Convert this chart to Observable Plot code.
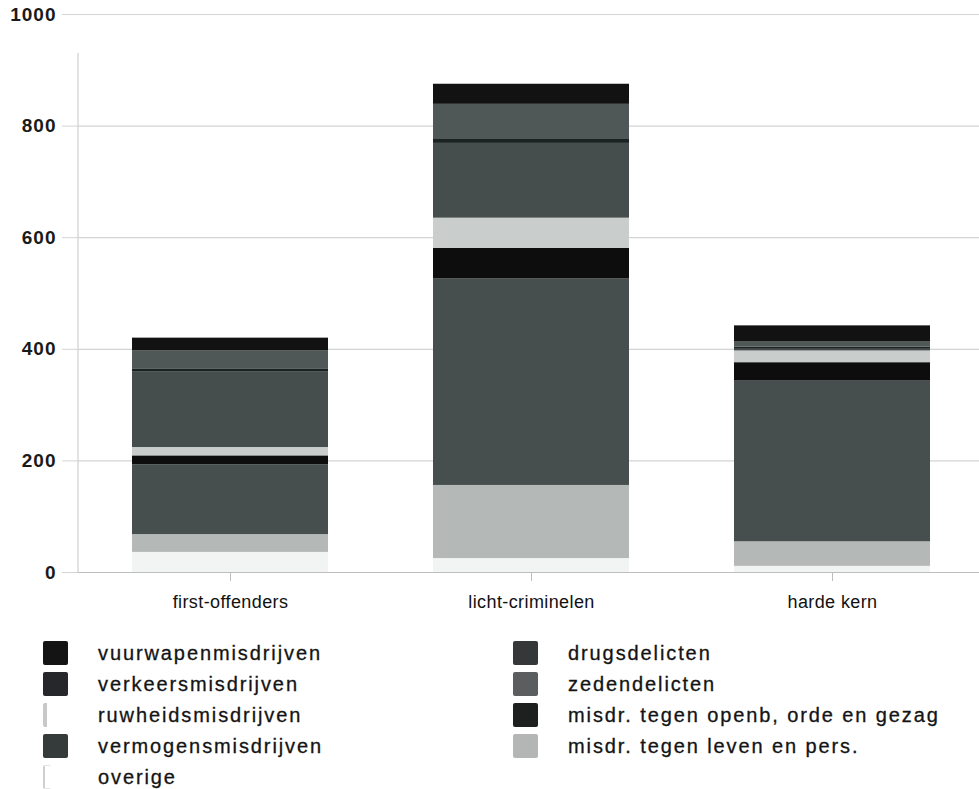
<!DOCTYPE html>
<html>
<head>
<meta charset="utf-8">
<script src="https://cdn.jsdelivr.net/npm/d3@7"></script>
<script src="https://cdn.jsdelivr.net/npm/@observablehq/plot@0.6"></script>
<style>
  body { margin: 0; background: #fff; font-family: "Liberation Sans", Arial, sans-serif; }
  #wrap { position: relative; width: 979px; height: 789px; }
  #legend { position: absolute; left: 0; top: 0; width: 979px; }
  .item { position: absolute; height: 26px; display: flex; align-items: center; }
  .sw { width: 25px; height: 24px; border-radius: 2px; margin-right: 30px; box-sizing: border-box; }
  .lab { font-size: 20px; letter-spacing: 1.9px; color: #141414; white-space: nowrap; -webkit-text-stroke: 0.3px #141414; }
</style>
</head>
<body>
<div id="wrap"><div id="chart"></div><div id="legend"></div></div>
<script>
const categories = ["first-offenders", "licht-criminelen", "harde kern"];
// stacking order, bottom to top
const series = [
  "overige",
  "misdr. tegen leven en pers.",
  "vermogensmisdrijven",
  "misdr. tegen openb, orde en gezag",
  "ruwheidsmisdrijven",
  "zedendelicten",
  "verkeersmisdrijven",
  "drugsdelicten",
  "vuurwapenmisdrijven"
];
const overige      = [36, 25, 11];
const levenPers    = [32, 131, 44];
const vermogens    = [125, 370, 288];
const openbOrde    = [16, 55, 33];
const ruwheids     = [15, 54, 21];
const zeden        = [136, 134, 3];
const verkeers     = [4, 7, 4];
const drugs        = [33, 63, 9];
const vuurwapen    = [23, 36, 29];
const seriesValues = [overige, levenPers, vermogens, openbOrde, ruwheids, zeden, verkeers, drugs, vuurwapen];
const colors = ["#f2f4f4", "#b4b9b8", "#464e4e", "#0d0d0d", "#c9cdcc", "#454d4d", "#1c2222", "#4f5757", "#121212"];
const yTicks = [0, 200, 400, 600, 800, 1000];

const legendLeft = ["vuurwapenmisdrijven", "verkeersmisdrijven", "ruwheidsmisdrijven", "vermogensmisdrijven", "overige"];
const legendRight = ["drugsdelicten", "zedendelicten", "misdr. tegen openb, orde en gezag", "misdr. tegen leven en pers."];

const data = [];
series.forEach((s, i) => categories.forEach((c, j) => data.push({cat: c, s, v: seriesValues[i][j]})));

const plot = Plot.plot({
  width: 979,
  height: 625,
  marginLeft: 78,
  marginRight: 0,
  marginTop: 14,
  marginBottom: 53,
  style: {fontFamily: "Liberation Sans, Arial, sans-serif", background: "#fff"},
  x: {domain: categories, range: [78, 983], paddingInner: 0.35, paddingOuter: 0.175, label: null},
  y: {domain: [0, 1000], label: null},
  color: {domain: series, range: colors},
  marks: [
    Plot.ruleY(yTicks, {y: d => d, stroke: "#d4d4d4", strokeWidth: 1.2}),
    Plot.barY(data, Plot.stackY({order: series}, {x: "cat", y: "v", fill: "s", inset: 0})),
    Plot.ruleY([0], {stroke: "#bdbdbd", strokeWidth: 1.2}),
    Plot.axisY({ticks: yTicks, tickSize: 16, stroke: "#d4d4d4", tickPadding: 6, fontSize: 19, fontWeight: "bold", fill: "#1a1a1a", tickFormat: d => String(d)}),
    Plot.axisX({tickSize: 9, stroke: "#bdbdbd", tickPadding: 14, fontSize: 18, fill: "#111"})
  ]
});
document.getElementById("chart").appendChild(plot);
const svg = d3.select(plot);
svg.selectAll("[aria-label='y-axis tick label'] text").style("letter-spacing", "1px");
svg.selectAll("[aria-label='x-axis tick label'] text").style("letter-spacing", "0.4px");
const ys = plot.scale("y");
// vertical axis line at left of plot
svg.append("line").attr("x1", 78).attr("x2", 78).attr("y1", ys.apply(930)).attr("y2", ys.apply(0)).attr("stroke", "#cfcfcf").attr("stroke-width", 1.2);

// legend
const legend = document.getElementById("legend");
const swatchStyle = {
  "vuurwapenmisdrijven": "background:#141414;",
  "verkeersmisdrijven": "background:#25272b;",
  "ruwheidsmisdrijven": "background:linear-gradient(to right,#c8c8c8 0,#c8c8c8 4px,transparent 4px);",
  "vermogensmisdrijven": "background:#353b3b;",
  "overige": "border-left:2px solid #cfcfcf;border-top:1px solid #e4e4e4;border-bottom:1px solid #e4e4e4;width:8px;margin-right:47px;",
  "drugsdelicten": "background:#343838;",
  "zedendelicten": "background:#5a5e5e;",
  "misdr. tegen openb, orde en gezag": "background:#1e2020;",
  "misdr. tegen leven en pers.": "background:#b4b6b6;"
};
function addCol(list, x) {
  list.forEach((name, i) => {
    const el = document.createElement("div");
    el.className = "item";
    el.style.left = x + "px";
    el.style.top = (640 + i * 31) + "px";
    el.innerHTML = `<div class="sw" style="${swatchStyle[name]}"></div><span class="lab">${name}</span>`;
    legend.appendChild(el);
  });
}
addCol(legendLeft, 43);
addCol(legendRight, 513);
</script>
</body>
</html>
